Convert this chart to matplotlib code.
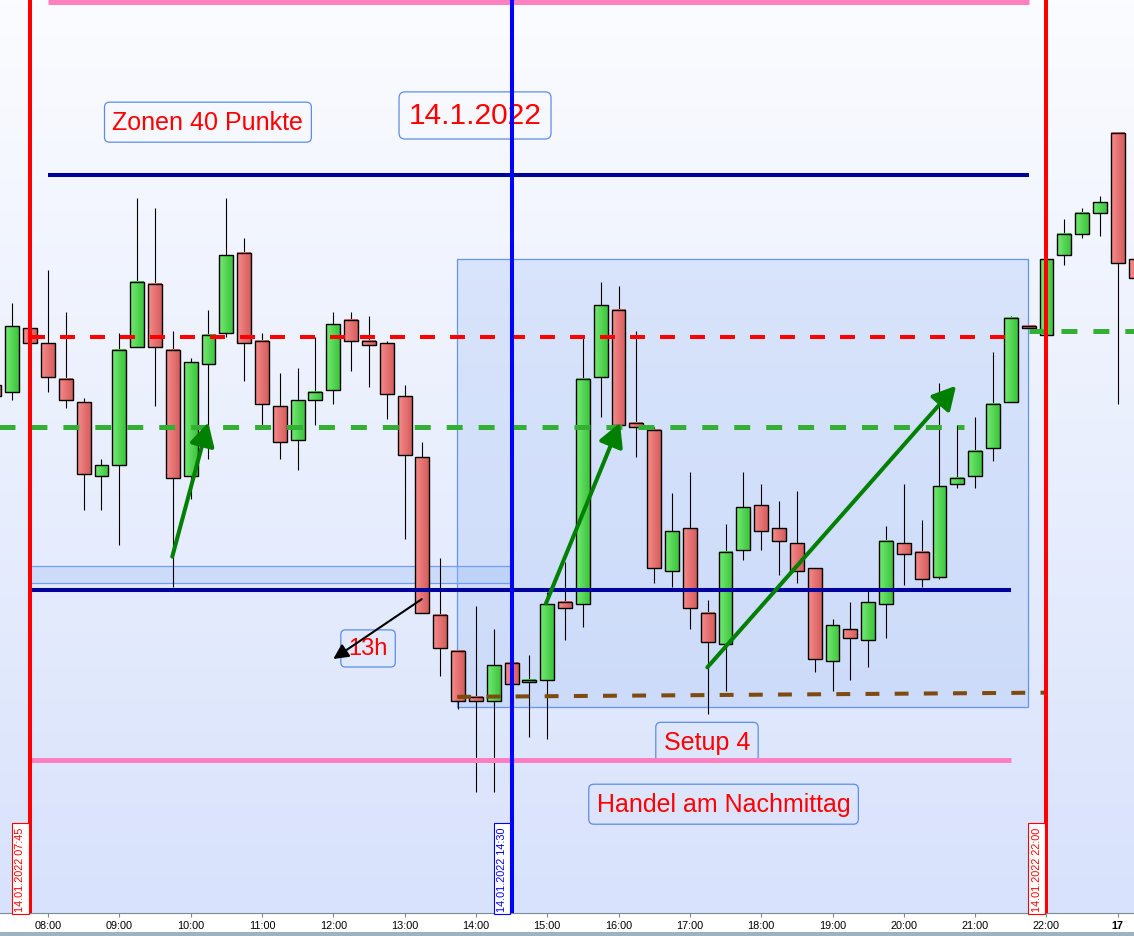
import numpy as np
import matplotlib
matplotlib.use('Agg')
import matplotlib.pyplot as plt
from matplotlib.patches import Rectangle
from matplotlib.colors import LinearSegmentedColormap

plt.rcParams['font.family'] = ['Liberation Sans', 'DejaVu Sans']
plt.rcParams['lines.scale_dashes'] = False

# 15-Minuten-Kerzen: 14.01.2022 07:15 bis 22:45, danach zwei Kerzen vom 17.01.
opens = [15889, 15887.5, 15902.5, 15899, 15890.5, 15885, 15867.5, 15870, 15898, 15913,
         15897.5, 15867.5, 15894, 15901.5, 15920.5, 15899.5, 15884, 15876, 15885.5, 15888,
         15904.5, 15899.5, 15899, 15886.5, 15872, 15834.5, 15826, 15815, 15814, 15823,
         15818.5, 15819, 15837.5, 15837, 15891, 15907, 15880, 15878.5, 15845, 15855,
         15835, 15827.5, 15850, 15860.5, 15855, 15851.5, 15845.5, 15823.5, 15831, 15828.5,
         15837, 15851.5, 15849.5, 15843.5, 15865.5, 15867.5, 15874, 15885, 15903, 15901,
         15920, 15925, 15930, 15949, 15919]
highs = [15890.5, 15908.5, 15903, 15916.5, 15906.5, 15886, 15871.5, 15901.5, 15933.5, 15931,
         15902, 15895.5, 15907, 15933.5, 15924, 15901.5, 15892, 15893, 15900.5, 15906.5,
         15906.5, 15905.5, 15899.5, 15889, 15875.5, 15848, 15826, 15836.5, 15831, 15823.5,
         15825, 15840, 15847, 15900.5, 15913.5, 15912.5, 15902, 15879, 15863.5, 15868.5,
         15838, 15856, 15868.5, 15865.5, 15861.5, 15864, 15845.5, 15833.5, 15837.5, 15840.5,
         15855.5, 15865.5, 15857, 15889.5, 15879.5, 15881.5, 15897, 15905.5, 15903, 15919,
         15928.5, 15931, 15934, 15949, 15920]
lows = [15885.5, 15885.5, 15898.5, 15887.5, 15883.5, 15859.5, 15859.5, 15851, 15898, 15884,
        15841, 15862, 15871.5, 15900.5, 15890, 15879.5, 15871.5, 15869, 15879.5, 15884.5,
        15892.5, 15888.5, 15881, 15852.5, 15835, 15820, 15812, 15792.5, 15792.5, 15817.5,
        15805.5, 15805, 15828.5, 15831.5, 15881.5, 15879.5, 15872, 15842, 15841, 15831,
        15811, 15816.5, 15847.5, 15850, 15844, 15842, 15821, 15816.5, 15819, 15822,
        15829, 15841.5, 15841, 15843, 15864.5, 15864.5, 15871, 15885, 15902.5, 15901,
        15917.5, 15924, 15924.5, 15884.5, 15913]
closes = [15886.5, 15903, 15899, 15891, 15885.5, 15868, 15870, 15897.5, 15913.5, 15898,
          15867, 15894.5, 15901, 15920, 15899, 15884.5, 15875.5, 15885.5, 15887.5, 15903.5,
          15899.5, 15898.5, 15887, 15872.5, 15835, 15826.5, 15814, 15814, 15822.5, 15818,
          15819, 15837, 15836, 15890.5, 15908, 15879.5, 15879, 15845.5, 15854.5, 15836,
          15828, 15849.5, 15860, 15854.5, 15852, 15845, 15824, 15832, 15829, 15837.5,
          15852, 15849, 15843, 15865, 15867, 15873.5, 15884.5, 15905, 15902.5, 15919,
          15925, 15930, 15932.5, 15918, 15914.5]

times = ['%02d:%02d' % divmod(m, 60) for m in range(7 * 60 + 15, 22 * 60 + 46, 15)] + ['17', '']

# Linien und Zonen
zone_outer = [15980, 15800]      # rosa
zone_inner = [15939, 15840.5]    # dunkelblau
red_level = 15900.5
green_level = 15879
green_level_next = 15902
brown_start, brown_end = 15815, 15816
box_top, box_bottom = 15919, 15812.5
band_top, band_bottom = 15846, 15842

markers = [('07:45', '14.01.2022 07:45', '#ff0000'),
           ('14:30', '14.01.2022 14:30', '#0000ff'),
           ('22:00', '14.01.2022 22:00', '#ff0000')]

x = np.arange(len(opens))
pos = {t: i for i, t in enumerate(times) if t}

fig = plt.figure(figsize=(11.34, 9.37), dpi=100, facecolor='white')
ax = fig.add_axes([0, 23 / 937, 1, 914 / 937])

# Hintergrundverlauf
bg = LinearSegmentedColormap.from_list('bg', ['#fbfcff', '#d8e2fc'])
ax.imshow(np.linspace(0, 1, 256).reshape(-1, 1), cmap=bg, extent=(0, 1, 0, 1),
          transform=ax.transAxes, aspect='auto', zorder=0)

# Rechtecke
ax.add_patch(Rectangle((pos['13:45'] - 0.05, box_bottom), pos['21:45'] - pos['13:45'], box_top - box_bottom,
                       fc=(0.63, 0.75, 0.96, 0.3), ec='#6495ed', lw=0.9, zorder=1))
ax.add_patch(Rectangle((pos['07:45'], band_bottom), pos['14:30'] - pos['07:45'], band_top - band_bottom,
                       fc=(0.63, 0.75, 0.96, 0.35), ec='#6ea0f0', lw=0.9, zorder=1))

# Kerzen
w = 0.78
red_cm = LinearSegmentedColormap.from_list('r', ['#f68c8c', '#d65c5c'])
green_cm = LinearSegmentedColormap.from_list('g', ['#74ea74', '#3cc43c'])
grad = np.linspace(0, 1, 32).reshape(1, -1)
for xi, o, h, l, c in zip(x, opens, highs, lows, closes):
    ax.vlines(xi, l, h, color='black', lw=0.8, zorder=3)
    lo, hi = min(o, c), max(o, c)
    cm = green_cm if c > o else red_cm
    ax.imshow(grad, cmap=cm, extent=(xi - w / 2, xi + w / 2, lo, hi), aspect='auto',
              interpolation='bilinear', zorder=4)
    ax.add_patch(Rectangle((xi - w / 2, lo), w, hi - lo, fill=False, ec='black', lw=1.0, zorder=4.1))

# horizontale Linien
ax.hlines(zone_outer[0], pos['08:00'], pos['21:45'], color='#ff80c0', lw=3.6, zorder=6)
ax.hlines(zone_outer[1], pos['07:45'], pos['21:30'], color='#ff80c0', lw=3.6, zorder=6)
ax.hlines(zone_inner[0], pos['08:00'], pos['21:45'], color='#00009c', lw=2.9, zorder=6)
ax.hlines(zone_inner[1], pos['07:45'], pos['21:30'], color='#00009c', lw=2.9, zorder=6)
ax.hlines(red_level, pos['07:45'], pos['21:30'], color='#ff0000', lw=2.9,
          linestyles=[(0, (10.8, 10.8))], zorder=6)
ax.hlines(green_level, -1, pos['20:45'] + 0.4, color='#33b033', lw=3.6,
          linestyles=[(0, (11.5, 11.5))], zorder=6)
ax.hlines(green_level_next, pos['21:45'], 66, color='#33b033', lw=3.6,
          linestyles=[(0, (11.5, 11.5))], zorder=6)
ax.plot([pos['13:45'] - 0.05, pos['22:00']], [brown_start, brown_end], color='#7f4a0f', lw=2.9,
        ls=(0, (10, 11)), zorder=6)

# vertikale Linien mit Datumsetiketten
for t, label, col in markers:
    ax.axvline(pos[t], color=col, lw=2.9, zorder=7)
    ax.annotate(label, xy=(pos[t], 0), xycoords=('data', 'axes fraction'), xytext=(-7, 1.5),
                textcoords='offset points', rotation=90, ha='center', va='bottom',
                color=col, fontsize=7.8, zorder=8,
                bbox=dict(boxstyle='square,pad=0.3', fc='white', ec=col, lw=0.8))

# Pfeile
green_arrows = [((9.97, 15848.3), (11.99, 15880.2)),
                ((30.93, 15837.2), (35.08, 15880.1)),
                ((39.98, 15822), (53.93, 15888.9))]
for tail, head in green_arrows:
    ax.annotate('', xy=head, xytext=tail, zorder=9,
                arrowprops=dict(arrowstyle='-|>,head_length=0.5,head_width=0.27', color='#008000',
                                lw=2.9, mutation_scale=28, shrinkA=0, shrinkB=0))
ax.annotate('', xy=(19.0, 15824), xytext=(23.96, 15838.2), zorder=9,
            arrowprops=dict(arrowstyle='-|>,head_length=0.5,head_width=0.25', color='black',
                            lw=1.5, mutation_scale=18, shrinkA=0, shrinkB=0))

# Textfelder
box = dict(boxstyle='round,pad=0.32,rounding_size=0.2', fc='none', ec='#5b8de8', lw=0.9)
ax.text(11.97, 15951.5, 'Zonen 40 Punkte', color='#ff0000', fontsize=18, ha='center', va='center', bbox=box, zorder=5)
ax.text(26.95, 15953.1, '14.1.2022', color='#ff0000', fontsize=21.5, ha='center', va='center', bbox=box, zorder=5)
ax.text(20.95, 15826.5, '13h', color='#ff0000', fontsize=17, ha='center', va='center', bbox=box, zorder=5)
ax.text(39.96, 15804.2, 'Setup 4', color='#ff0000', fontsize=18, ha='center', va='center', bbox=box, zorder=5)
ax.text(40.89, 15789.5, 'Handel am Nachmittag', color='#ff0000', fontsize=18, ha='center', va='center', bbox=box, zorder=5)

# Achsen
ax.set_xlim(0.308, 63.91)
ax.set_ylim(15763.66, 15980.76)
ticks = [i for i, t in enumerate(times) if t.endswith(':00') and '08:00' <= t <= '22:00'] + [pos['17']]
ax.set_xticks(ticks)
ax.set_xticklabels([times[i] for i in ticks])
ax.get_xticklabels()[-1].set_fontweight('bold')
ax.get_xticklabels()[-1].set_fontsize(9)
ax.set_yticks([])
for s in ['left', 'right', 'top']:
    ax.spines[s].set_visible(False)
ax.spines['bottom'].set_color('#7a8a99')
ax.tick_params(axis='x', direction='out', length=3, width=0.8, color='#7a8a99', labelsize=7.8, pad=2)

fig.patches.append(Rectangle((0, 0), 1, 4 / 937, transform=fig.transFigure, fc='#9db4c0', ec='none'))

fig.savefig('out.png', dpi=100)
